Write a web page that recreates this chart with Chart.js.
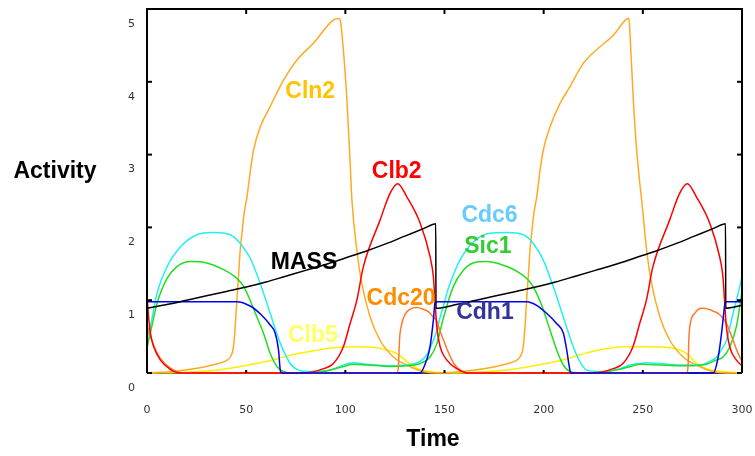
<!DOCTYPE html>
<html>
<head>
<meta charset="utf-8">
<script src="https://cdn.jsdelivr.net/npm/chart.js@4"></script>
<style>
  html, body { margin: 0; padding: 0; background: #fff; }
  #wrap { width: 755px; height: 456px; position: relative; }
</style>
</head>
<body>
<div id="wrap"><canvas id="cycleChart"></canvas></div>
<script>
// tick labels
const xTicks = [0, 50, 100, 150, 200, 250, 300];
const yTicks = [0, 1, 2, 3, 4, 5];

// series, [time, activity]
const cln2 = [[0,0],[13,0.02],[22,0.05],[30,0.09],[36,0.13],[40,0.17],[42,0.22],[43.6,0.36],[44.5,0.64],[45.3,1.0],[46.2,1.35],[47,1.69],[48,1.95],[49,2.2],[50.4,2.42],[52,2.75],[53.7,3.06],[57.1,3.38],[62.1,3.66],[68.8,4.02],[75.6,4.3],[83.9,4.53],[94,4.85],[96.5,4.87],[97.4,4.85],[99,4.44],[100.8,3.75],[102.4,2.9],[103.3,2.38],[105.8,1.69],[108.3,1.23],[112.5,0.77],[117.5,0.45],[124.2,0.22],[132.6,0.09],[139.3,0.02],[146,0],
  [159,0.02],[168,0.05],[176,0.09],[182,0.13],[186,0.17],[188,0.22],[189.7,0.36],[190.6,0.64],[191.4,1.0],[192.3,1.35],[193.1,1.69],[194.1,1.95],[195.1,2.2],[196.5,2.42],[198,2.75],[199.8,3.06],[203.2,3.38],[208.2,3.7],[213.2,3.93],[219.9,4.25],[226.7,4.44],[235.1,4.64],[241.8,4.86],[243,4.87],[243.5,4.67],[245.2,3.75],[246.9,3.06],[248.5,2.6],[249.4,2.38],[251.9,1.69],[254.4,1.23],[258.6,0.77],[263.6,0.45],[270.3,0.22],[278.7,0.09],[285.4,0.02],[292.2,0],[300,0]];

const clb2 = [[0,1.05],[0.8,0.77],[1.7,0.55],[3.4,0.36],[6.7,0.18],[11.7,0.05],[16.8,0],[79,0],[89,0.06],[94,0.13],[99,0.36],[102.4,0.68],[105.8,1.0],[109,1.45],[117.5,2.1],[122.6,2.47],[126.4,2.6],[131,2.42],[137.7,2.06],[142.7,1.6],[144.4,1.32],[145.2,1.0],[146.1,0.64],[147.8,0.36],[151.1,0.18],[156.2,0.06],[162,0],
  [225,0],[235,0.06],[240,0.13],[245,0.36],[248.4,0.68],[251.8,1.0],[255,1.45],[263.5,2.1],[268.6,2.47],[272.4,2.6],[277,2.42],[283.7,2.06],[288.7,1.6],[290.4,1.32],[291.2,1.0],[292.1,0.64],[293.8,0.36],[297.1,0.18],[300,0.1]];

const cdc6 = [[0,0.45],[1.7,0.64],[5,1.09],[10.1,1.46],[16.8,1.73],[25.2,1.9],[33.6,1.93],[42,1.9],[47,1.78],[52,1.58],[57.1,1.23],[62.1,0.82],[67.2,0.41],[72.2,0.13],[76.4,0.04],[82.3,0.02],[92.3,0.04],[99,0.11],[104.1,0.14],[110.8,0.12],[122.6,0.1],[131,0.11],[137.7,0.16],[141,0.25],[144.4,0.45],[146.1,0.58],[147.8,0.77],[149.4,0.91],[151.1,1.09],[152.8,1.23],[157.8,1.55],[164.5,1.8],[172.9,1.92],[181.4,1.93],[189.7,1.9],[194.8,1.78],[199.8,1.55],[204.8,1.19],[209.9,0.77],[214.9,0.36],[218.4,0.15],[221.7,0.04],[228.4,0.02],[238.4,0.06],[243.5,0.11],[248.5,0.13],[251.9,0.14],[258.6,0.13],[268.7,0.11],[278.7,0.11],[283.8,0.16],[287.2,0.22],[290.5,0.36],[292.2,0.45],[295.5,0.82],[298.9,1.19],[300,1.33]];

const sic1 = [[0,0.35],[1.7,0.55],[5,0.95],[10.1,1.3],[15.1,1.46],[21.8,1.53],[30.2,1.51],[38.6,1.42],[45.3,1.3],[48.7,1.19],[52,1.0],[55.4,0.77],[58.7,0.55],[62.1,0.27],[65.5,0.09],[68.8,0.02],[72.2,0],[82.3,0],[92.3,0.04],[99,0.09],[104.1,0.12],[110.8,0.11],[122.6,0.09],[131,0.1],[137.7,0.13],[142.7,0.22],[146.1,0.4],[149.4,0.75],[154.5,1.19],[159.5,1.41],[164.5,1.51],[171.3,1.53],[179.6,1.48],[188.1,1.37],[193.1,1.25],[196.5,1.09],[199.8,0.87],[203.2,0.59],[206.5,0.32],[209.9,0.11],[213.2,0.02],[218,0],[228,0.01],[238.4,0.05],[245.1,0.1],[248.5,0.12],[258.6,0.11],[268.7,0.1],[275.4,0.1],[282.1,0.12],[287.2,0.18],[290.5,0.22],[293.9,0.36],[297.2,0.64],[300,1.12]];

const mass = [[0,0.89],[10,0.94],[20,1.0],[30,1.06],[40,1.12],[50,1.18],[60,1.25],[70,1.33],[80,1.41],[90,1.49],[100,1.58],[110,1.67],[120,1.77],[130,1.88],[140,1.99],[145.6,2.05],[145.7,0.89],[156,0.94],[166,1.0],[176,1.06],[186,1.12],[196,1.18],[206,1.25],[216,1.33],[226,1.41],[236,1.49],[246,1.58],[256,1.67],[266,1.77],[276,1.88],[286,1.99],[291.7,2.05],[291.8,0.89],[300,0.93]];

const cdc20 = [[0,0.66],[1.5,0.52],[3.3,0.38],[6.7,0.2],[11.7,0.07],[15,0.02],[18,0],[126,0],[126.8,0.1],[127.3,0.45],[128,0.62],[130,0.8],[133,0.88],[136,0.9],[139,0.88],[142,0.84],[144,0.78],[146,0.72],[148,0.56],[150,0.42],[152,0.28],[155,0.12],[158,0.04],[162,0],
  [272,0],[272.8,0.09],[273.2,0.45],[273.7,0.64],[276.2,0.82],[279.6,0.89],[283.8,0.87],[288.8,0.8],[292.2,0.68],[295.5,0.45],[298,0.27],[300,0.16]];

const cdh1 = [[0,0.98],[45.3,0.98],[52,0.92],[57.6,0.8],[62.1,0.66],[64.6,0.55],[66.3,0.32],[67.2,0.04],[68,0],[137.7,0],[141,0.18],[142.7,0.36],[144.4,0.73],[145.2,0.96],[146.1,0.98],[191.4,0.98],[196.5,0.93],[201.5,0.82],[206.5,0.68],[209.9,0.55],[211.6,0.32],[212.9,0.09],[213.6,0],[285.5,0],[288,0.22],[289.7,0.55],[290.8,0.82],[291.5,0.97],[292.2,0.98],[300,0.98]];

const clb5 = [[0,0],[20,0.01],[35,0.04],[45,0.08],[55,0.13],[65,0.19],[75,0.26],[85,0.31],[95,0.35],[105,0.36],[115,0.35],[122,0.31],[127,0.25],[131,0.16],[135,0.08],[140,0.03],[146,0.01],[155,0],
  [166,0.01],[181,0.04],[191,0.08],[201,0.13],[211,0.19],[218.4,0.25],[228.4,0.32],[241.8,0.36],[251.9,0.36],[265.3,0.34],[272,0.27],[277.1,0.13],[282.1,0.06],[290.5,0.02],[300,0]];

// name labels placed in data units
const curveNames = [
  { text: 'Cln2',  t: 82.3,  v: 3.87, color: '#FFC400' },
  { text: 'Clb2',  t: 125.9, v: 2.77, color: '#FF0000' },
  { text: 'MASS',  t: 79.2,  v: 1.51, color: '#000000' },
  { text: 'Cdc20', t: 128.1, v: 1.02, color: '#FF8C00' },
  { text: 'Clb5',  t: 83.6,  v: 0.51, color: '#FFFF66' },
  { text: 'Cdc6',  t: 172.7, v: 2.16, color: '#66CCFF' },
  { text: 'Sic1',  t: 171.9, v: 1.73, color: '#33CC33' },
  { text: 'Cdh1',  t: 170.4, v: 0.83, color: '#333399' }
];

const toXY = arr => arr.map(p => ({ x: p[0], y: p[1] }));

function line(data, color) {
  return {
    data: toXY(data),
    borderColor: color,
    borderWidth: 1.5,
    pointRadius: 0,
    fill: false,
    cubicInterpolationMode: 'monotone',
    clip: 4
  };
}

const framePlugin = {
  id: 'frame',
  beforeDatasetsDraw(chart) {
    const { ctx, chartArea: a } = chart;
    ctx.save();
    ctx.strokeStyle = '#000';
    ctx.lineWidth = 1.5;
    ctx.beginPath();
    ctx.moveTo(a.left, a.bottom);
    ctx.lineTo(a.right, a.bottom);
    ctx.stroke();
    ctx.restore();
  },
  afterDatasetsDraw(chart) {
    const { ctx, chartArea: a, scales: { x, y } } = chart;
    ctx.save();
    ctx.strokeStyle = '#000';
    ctx.lineWidth = 2;
    ctx.beginPath();
    ctx.moveTo(a.left, a.bottom);
    ctx.lineTo(a.left, a.top);
    ctx.lineTo(a.right, a.top);
    ctx.lineTo(a.right, a.bottom);
    ctx.stroke();

    // ticks point into the plot
    x.ticks.forEach(t => {
      const px = x.getPixelForValue(t.value);
      ctx.beginPath(); ctx.moveTo(px, a.top); ctx.lineTo(px, a.top + 5); ctx.stroke();
      ctx.beginPath(); ctx.moveTo(px, a.bottom); ctx.lineTo(px, a.bottom - 3); ctx.stroke();
    });
    y.ticks.forEach(t => {
      const py = y.getPixelForValue(t.value);
      ctx.beginPath(); ctx.moveTo(a.left, py); ctx.lineTo(a.left + 5, py); ctx.stroke();
      ctx.beginPath(); ctx.moveTo(a.right, py); ctx.lineTo(a.right - 5, py); ctx.stroke();
    });

    ctx.font = 'bold 23px Arial, "Liberation Sans", sans-serif';
    ctx.textAlign = 'center';
    ctx.textBaseline = 'middle';
    curveNames.forEach(n => {
      ctx.fillStyle = n.color;
      ctx.fillText(n.text, x.getPixelForValue(n.t), y.getPixelForValue(n.v));
    });

    ctx.fillStyle = '#000';
    ctx.fillText('Activity', 55, 172);
    ctx.fillText('Time', 433, 440);
    ctx.restore();
  }
};

const ctx = document.getElementById('cycleChart').getContext('2d');
new Chart(ctx, {
  type: 'line',
  data: {
    datasets: [
      line(mass, '#000000'),
      line(cdh1, '#0000EE'),
      line(clb2, '#FF0000'),
      line(cdc20, '#FF7A30'),
      line(sic1, '#22DD22'),
      line(cdc6, '#22F0F0'),
      line(cln2, '#FFAA22'),
      line(clb5, '#FFEE00')
    ]
  },
  options: {
    responsive: true,
    maintainAspectRatio: false,
    animation: false,
    layout: { padding: { top: 9, right: 13, left: 0, bottom: 0 } },
    plugins: { legend: { display: false }, tooltip: { enabled: false } },
    scales: {
      x: {
        type: 'linear',
        min: 0,
        max: 300,
        afterBuildTicks: s => { s.ticks = xTicks.map(v => ({ value: v })); },
        afterFit: s => { s.height = 83; s.paddingLeft = 0; s.paddingRight = 0; },
        grid: { display: false, drawTicks: false },
        border: { display: false },
        ticks: {
          padding: 31,
          color: '#333',
          font: { family: '"DejaVu Sans", sans-serif', size: 11 }
        }
      },
      y: {
        min: 0,
        max: 5,
        afterBuildTicks: s => { s.ticks = yTicks.map(v => ({ value: v })); },
        afterFit: s => { s.width = 147; s.paddingTop = 0; s.paddingBottom = 0; },
        grid: { display: false, drawTicks: false },
        border: { display: false },
        ticks: {
          padding: 12,
          labelOffset: 15,
          color: '#333',
          font: { family: '"DejaVu Sans", sans-serif', size: 11 }
        }
      }
    }
  },
  plugins: [framePlugin]
});
</script>
</body>
</html>
